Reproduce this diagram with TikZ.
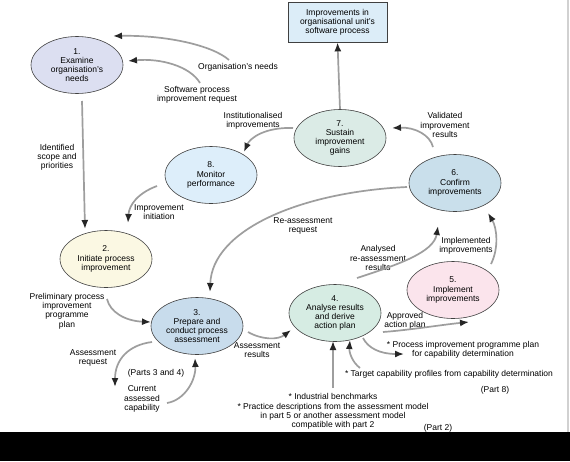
\documentclass[tikz,border=0pt]{standalone}
\usepackage{fontspec}
\setmainfont{Liberation Sans}
\usepackage{xcolor}
\usetikzlibrary{shapes.geometric}
\usetikzlibrary{arrows.meta}

\definecolor{boxblue}{HTML}{DCEDF8}
\definecolor{lavender}{HTML}{DCDFF1}
\definecolor{sagegreen}{HTML}{DBEBE6}
\definecolor{steelblue}{HTML}{C9DFEB}
\definecolor{paleblue}{HTML}{DDEEFA}
\definecolor{cream}{HTML}{FBF8E3}
\definecolor{midblue}{HTML}{C8DCEC}
\definecolor{mint}{HTML}{D6ECE3}
\definecolor{blush}{HTML}{FBE4EC}

\begin{document}
\begin{tikzpicture}[
  x=1pt, y=-1pt,
  every node/.style={font=\fontsize{8.5}{9.2}\selectfont, align=center, inner sep=0pt},
  stage/.style={ellipse, draw=black!75, line width=0.6pt, minimum width=92pt, minimum height=57pt},
  outcome/.style={rectangle, draw=black!75, line width=0.8pt, minimum width=99pt, minimum height=40pt, fill=boxblue},
  flow/.style={draw=black!38, line width=1.7pt, -{Latex[length=9pt,width=7pt,color=black!85]}},
]
\useasboundingbox (0,0) rectangle (570,461);
\fill[white] (0,0) rectangle (570,432);
\fill[black] (0,432) rectangle (570,461);
\draw[black!18, line width=1.2pt] (568,0) -- (568,432);

% process stages
\node[outcome] (gain) at (337.5,22) {Improvements in\\organisational unit's\\software process};
\node[stage, fill=lavender] (examine) at (77,65) {1.\\Examine\\organisation's\\needs};
\node[stage, fill=cream] (initiate) at (106,259) {2.\\Initiate process\\improvement};
\node[stage, fill=midblue] (prepare) at (197,326) {3.\\Prepare and\\conduct process\\assessment};
\node[stage, fill=mint] (analyse) at (335,313) {4.\\Analyse results\\and derive\\action plan};
\node[stage, fill=blush] (implement) at (453,290) {5.\\Implement\\improvements};
\node[stage, fill=steelblue] (confirm) at (455,183) {6.\\Confirm\\improvements};
\node[stage, fill=sagegreen] (sustain) at (340,138) {7.\\Sustain\\improvement\\gains};
\node[stage, fill=paleblue] (monitor) at (211,175) {8.\\Monitor\\performance};

% labels
\node (orgneeds) at (238,67) {Organisation's needs};
\node (swreq) at (197,95) {Software process\\improvement request};
\node (instit) at (253,121) {Institutionalised\\improvements};
\node (scope) at (57,157) {Identified\\scope and\\priorities};
\node (initiation) at (159,212) {Improvement\\initiation};
\node (reassess) at (303,226) {Re-assessment\\request};
\node (prelim) at (67,311) {Preliminary process\\improvement\\programme\\plan};
\node (assreq) at (93,358) {Assessment\\request};
\node (parts34) at (156,373) {(Parts 3 and 4)};
\node (current) at (142,399) {Current\\assessed\\capability};
\node (assres) at (257,350) {Assessment\\results};
\node (bench) at (333,411.5) {* Industrial benchmarks\\* Practice descriptions from the assessment model\\in part 5 or another assessment model\\compatible with part 2};
\node (part2) at (438,428) {(Part 2)};
\node (part8) at (495,390) {(Part 8)};
\node (target) at (449,374) {* Target capability profiles from capability determination};
\node (pipp) at (463,350) {* Process improvement programme plan\\for capability determination};
\node (approved) at (405,321) {Approved\\action plan};
\node (analysed) at (378,258) {Analysed\\re-assessment\\results};
\node (implemented) at (466,246) {Implemented\\improvements};
\node (validated) at (445,125) {Validated\\improvement\\results};

% connector ends
\coordinate (orgneeds-s) at (229,60);   \coordinate (orgneeds-e) at (113,36);
\coordinate (swreq-s) at (200,83);      \coordinate (swreq-e) at (128,61);
\coordinate (instit-s) at (293,128);    \coordinate (instit-e) at (244,152);
\coordinate (scope-s) at (82,101);      \coordinate (scope-e) at (85,229);
\coordinate (init-s) at (157,186);      \coordinate (init-e) at (128,223);
\coordinate (reass-s) at (407,187);     \coordinate (reass-e) at (210,292);
\coordinate (prelim-s) at (107,299);    \coordinate (prelim-e) at (151,322);
\coordinate (assreq-s) at (152,342);    \coordinate (assreq-e) at (115,387);
\coordinate (current-s) at (167,403);   \coordinate (current-e) at (195,358);
\coordinate (assres-s) at (248,332);    \coordinate (assres-e) at (291,330);
\coordinate (anal-s) at (357,278);      \coordinate (anal-e) at (438,226);
\coordinate (impl-s) at (491,264);      \coordinate (impl-e) at (488,213);
\coordinate (appr-s) at (383,332);      \coordinate (appr-e) at (469,322);
\coordinate (pipp-s) at (363,338);      \coordinate (pipp-e) at (404,354);
\coordinate (target-s) at (360,368);    \coordinate (target-e) at (350,340);
\coordinate (bench-s) at (333,388);     \coordinate (bench-e) at (333,341);
\coordinate (valid-s) at (433,147);     \coordinate (valid-e) at (392,128);

% flows
\draw[flow] (orgneeds-s) .. controls (212,45) and (165,35) .. (orgneeds-e);
\draw[flow] (swreq-s) .. controls (190,66) and (160,58) .. (swreq-e);
\draw[flow] (instit-s) .. controls (265,127) and (250,138) .. (instit-e);
\draw[flow] (scope-s) -- (scope-e);
\draw[flow] (init-s) .. controls (138,193) and (129,205) .. (init-e);
\draw[flow] (reass-s) .. controls (300,192) and (212,230) .. (reass-e);
\draw[flow] (prelim-s) .. controls (110,312) and (125,321) .. (prelim-e);
\draw[flow] (assreq-s) .. controls (128,345) and (115,360) .. (assreq-e);
\draw[flow] (current-s) .. controls (185,400) and (196,380) .. (current-e);
\draw[flow] (assres-s) .. controls (262,340) and (278,340) .. (assres-e);
\draw[flow] (anal-s) .. controls (400,264) and (434,252) .. (anal-e);
\draw[flow] (impl-s) .. controls (499,248) and (497,228) .. (impl-e);
\draw[flow] (appr-s) .. controls (410,330) and (440,325) .. (appr-e);
\draw[flow] (pipp-s) .. controls (368,348) and (380,354) .. (pipp-e);
\draw[flow] (target-s) .. controls (352,362) and (349,352) .. (target-e);
\draw[flow] (bench-s) -- (bench-e);
\draw[flow] (valid-s) .. controls (430,135) and (415,127) .. (valid-e);
\draw[flow] (sustain.north) -- (gain.south);
\end{tikzpicture}
\end{document}
